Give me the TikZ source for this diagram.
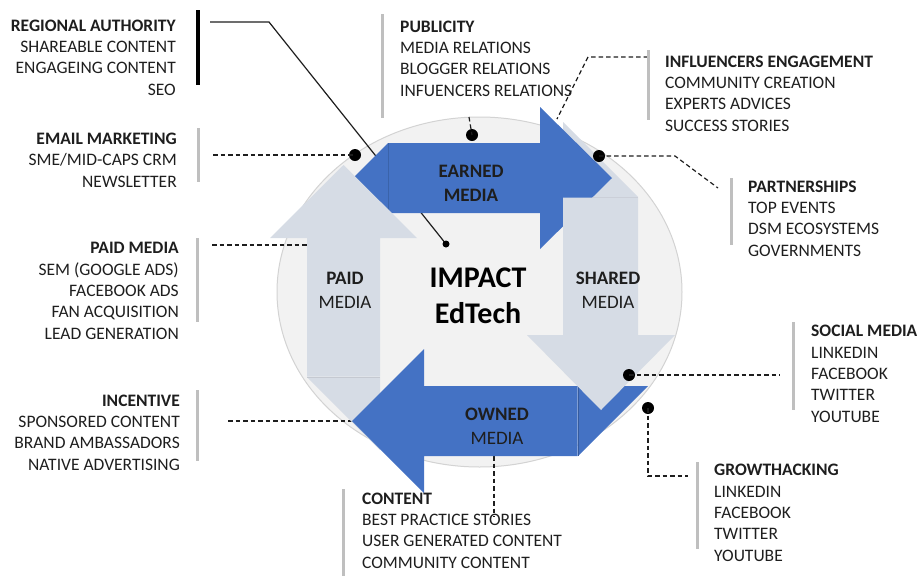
\documentclass[tikz,border=0pt]{standalone}
\usepackage{fontspec}
\setmainfont{Carlito}
\usepackage{xcolor}
\definecolor{mediablue}{HTML}{4472C4}
\definecolor{mediapale}{HTML}{D6DCE5}
\definecolor{disc}{HTML}{F2F2F2}
\definecolor{discedge}{HTML}{D3D3D3}
\definecolor{barclr}{HTML}{BFBFBF}
\definecolor{ink}{HTML}{1E1E1E}
\newcommand{\tagfont}{\fontsize{17.5}{21.3}\selectfont}
\newcommand{\arrfont}{\fontsize{19}{24}\selectfont}
\newcommand{\hubfont}{\fontsize{30}{36}\selectfont\bfseries}
\usepackage{tikz}

\begin{document}
\begin{tikzpicture}[x=1pt,y=-1pt,
    tag/.style={font=\tagfont, text=ink, inner sep=0pt},
    tagr/.style={tag, align=right, anchor=base east},
    tagl/.style={tag, align=left, anchor=base west},
    mid/.style={font=\arrfont, text=ink, inner sep=0pt, align=center, anchor=base},
    bar/.style={barclr, line width=3pt},
    lead/.style={ink, line width=1.2pt},
    conn/.style={ink, line width=1.2pt, dash pattern=on 4.5pt off 3pt},
    dot/.style={circle, fill=black, inner sep=0pt, minimum size=12pt},
    pin/.style={dot, minimum size=7pt}]
  \useasboundingbox (0,0) rectangle (919,576);

  % disc behind the cycle
  \filldraw[fill=disc, draw=discedge, line width=1pt] (479.5,292) ellipse [x radius=202.5pt, y radius=175pt];

  % end points of the connectors
  \coordinate (c-reg1) at (210,22);
  \coordinate (c-reg2) at (269,22);
  \coordinate (c-email) at (213,155);
  \coordinate (c-pub) at (469,117);
  \coordinate (c-infl1) at (648,57);
  \coordinate (c-infl2) at (588,57);
  \coordinate (c-infl3) at (557,119);
  \coordinate (c-part1) at (675,156);
  \coordinate (c-part2) at (718,188);
  \coordinate (c-soc) at (780,375);
  \coordinate (c-grow1) at (648,476);
  \coordinate (c-grow2) at (688,476);
  \coordinate (c-cont1) at (494,456);
  \coordinate (c-cont2) at (494,517);
  \coordinate (c-paid1) at (212,245);
  \coordinate (c-paid2) at (307,245);
  \coordinate (c-inc) at (228,421);
  \coordinate (c-tip) at (352,421);

  % lines that run under the arrows
  \draw[lead] (c-reg1) -- (c-reg2) -- (446,244);
  \draw[conn] (c-infl1) -- (c-infl2) -- (c-infl3);
  \draw[conn] (c-cont1) -- (c-cont2);
  \draw[conn] (c-paid1) -- (c-paid2);
  \draw[conn] (c-inc) -- (c-tip);

  % mitred tails
  \fill[mediablue] (388,143) -- (388,213) -- (318,213) -- cycle;
  \fill[mediapale] (563,197) -- (638,197) -- (563,122) -- cycle;
  \fill[mediablue] (578,456) -- (578,386) -- (648,386) -- cycle;
  \fill[mediapale] (307,377) -- (380,377) -- (380,450) -- cycle;
  \draw[mediablue!80!black, line width=0.8pt] (388,143) -- (388,213);
  \draw[mediapale!80!gray, line width=0.8pt] (563,197) -- (638,197);
  \draw[mediablue!80!black, line width=0.8pt] (578,386) -- (578,456);
  \draw[mediapale!80!gray, line width=0.8pt] (307,377) -- (380,377);

  % earned
  \fill[mediablue] (388.5,143) -- (540,143) -- (540,107) -- (612,178) -- (540,249) -- (540,213) -- (388.5,213) -- cycle;
  % shared
  \fill[mediapale] (563,197.5) -- (638,197.5) -- (638,335) -- (675,335) -- (601,410) -- (527,335) -- (563,335) -- cycle;
  % owned
  \fill[mediablue] (577.5,386) -- (424,386) -- (424,349) -- (352,421) -- (424,493) -- (424,456) -- (577.5,456) -- cycle;
  % paid
  \fill[mediapale] (380,376.5) -- (380,238) -- (417,238) -- (343.5,165) -- (270,238) -- (307,238) -- (307,376.5) -- cycle;

  % markers
  \node[pin] (p-reg) at (446,244) {};
  \node[dot] (d-email) at (355,155) {};
  \node[dot] (d-pub) at (472,135) {};
  \node[dot] (d-part) at (599,156) {};
  \node[dot] (d-soc) at (629,375) {};
  \node[dot] (d-grow) at (648,408) {};

  \draw[conn] (c-email) -- (d-email.center);
  \draw[conn] (c-pub) -- (d-pub.center);
  \draw[conn] (d-part.center) -- (c-part1) -- (c-part2);
  \draw[conn] (d-soc.center) -- (c-soc);
  \draw[conn] (d-grow.center) -- (c-grow1) -- (c-grow2);

  % cycle texts (base sits on the last line)
  \node[font=\hubfont, text=black, inner sep=0pt, align=center, anchor=base] (hub) at (478,323) {IMPACT\\EdTech};
  \node[mid] (t-earned) at (471,201) {\textbf{EARNED}\\\textbf{MEDIA}};
  \node[mid] (t-paid) at (345,308) {\textbf{PAID}\\MEDIA};
  \node[mid] (t-shared) at (608,308) {\textbf{SHARED}\\MEDIA};
  \node[mid] (t-owned) at (497,444) {\textbf{OWNED}\\MEDIA};

  % side bars
  \draw[bar, black, line width=3.5pt] (198,10) -- (198,85);
  \draw[bar] (198,128) -- (198,182);
  \draw[bar] (197,238) -- (197,322);
  \draw[bar] (197,390) -- (197,461);
  \draw[bar] (382,14) -- (382,118);
  \draw[bar] (648,50) -- (648,120);
  \draw[bar] (731,178) -- (731,245);
  \draw[bar] (793,322) -- (793,410);
  \draw[bar] (697,462) -- (697,549);
  \draw[bar] (343,489) -- (343,576);

  % left column
  \node[tagr] (regional) at (176,95) {\textbf{REGIONAL AUTHORITY}\\SHAREABLE CONTENT\\ENGAGEING CONTENT\\SEO};
  \node[tagr] (email) at (177,187) {\textbf{EMAIL MARKETING}\\SME/MID-CAPS CRM\\NEWSLETTER};
  \node[tagr] (paidmedia) at (179,339) {\textbf{PAID MEDIA}\\SEM (GOOGLE ADS)\\FACEBOOK ADS\\FAN ACQUISITION\\LEAD GENERATION};
  \node[tagr] (incentive) at (180,470) {\textbf{INCENTIVE}\\SPONSORED CONTENT\\BRAND AMBASSADORS\\NATIVE ADVERTISING};

  % top, right and bottom
  \node[tagl] (publicity) at (400,96) {\textbf{PUBLICITY}\\MEDIA RELATIONS\\BLOGGER RELATIONS\\INFUENCERS RELATIONS};
  \node[tagl] (influencers) at (665,131) {\textbf{INFLUENCERS ENGAGEMENT}\\COMMUNITY CREATION\\EXPERTS ADVICES\\SUCCESS STORIES};
  \node[tagl] (partners) at (748,256) {\textbf{PARTNERSHIPS}\\TOP EVENTS\\DSM ECOSYSTEMS\\GOVERNMENTS};
  \node[tagl] (social) at (811,422) {\textbf{SOCIAL MEDIA}\\LINKEDIN\\FACEBOOK\\TWITTER\\YOUTUBE};
  \node[tagl] (growth) at (714,561) {\textbf{GROWTHACKING}\\LINKEDIN\\FACEBOOK\\TWITTER\\YOUTUBE};
  \node[tagl] (content) at (362,568) {\textbf{CONTENT}\\BEST PRACTICE STORIES\\USER GENERATED CONTENT\\COMMUNITY CONTENT};
\end{tikzpicture}
\end{document}
